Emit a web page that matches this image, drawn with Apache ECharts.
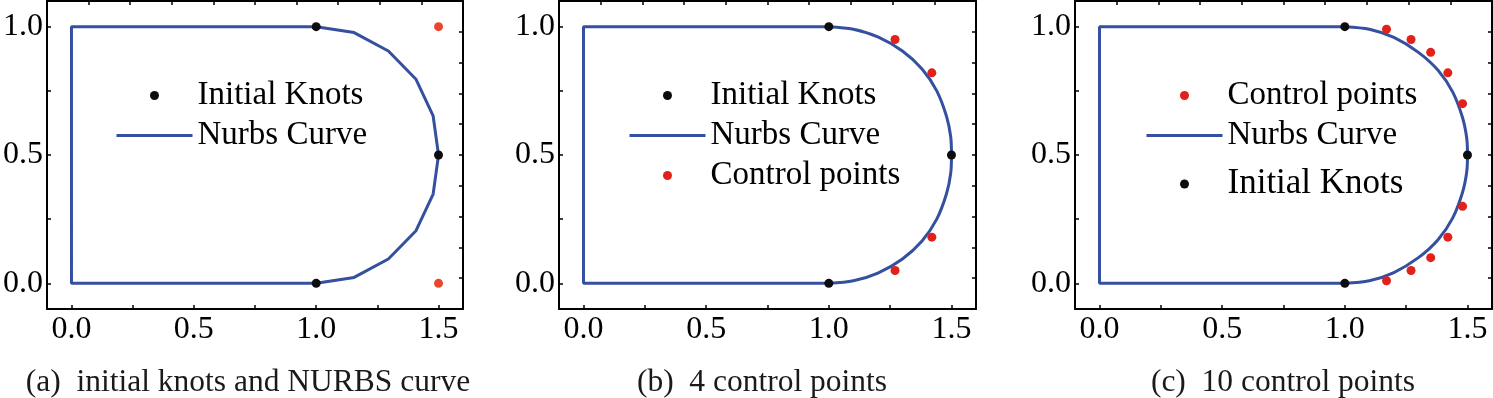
<!DOCTYPE html>
<html>
<head>
<meta charset="utf-8">
<script src="https://cdn.jsdelivr.net/npm/echarts@6/dist/echarts.min.js"></script>
<style>
  html, body { margin: 0; padding: 0; background: #fff; }
  #main { width: 1493px; height: 398px; }
</style>
</head>
<body>
<div id="main"></div>
<script>
// tick values
const xTickValues = [0, 0.25, 0.5, 0.75, 1, 1.25, 1.5]
const xLabelValues = [0, 0.5, 1, 1.5]
const yTickValues = [0, 0.25, 0.5, 0.75, 1]
const yLabelValues = [0, 0.5, 1]
const topTickValues = [0.07, 0.24, 0.41, 0.58, 0.75, 0.92, 1.09, 1.26, 1.43]
const rightTickValues = [0.02, 0.14, 0.26, 0.38, 0.5, 0.62, 0.74, 0.86, 0.98]

// straight part of the curve (same in all panels)
const straightPart = [[1, 0], [0, 0], [0, 1], [1, 1]]

// (a) initial knots and NURBS curve
const knotsA = [[1, 1], [1.5, 0.5], [1, 0]]
const controlA = [[1.5, 1], [1.5, 0]]
const curveA = [[1, 1], [1.155, 0.977], [1.295, 0.905], [1.408, 0.795], [1.478, 0.652], [1.5, 0.5],
    [1.478, 0.348], [1.408, 0.205], [1.295, 0.095], [1.155, 0.023], [1, 0]]

// (b) 4 control points
const knotsB = [[1, 1], [1.5, 0.5], [1, 0]]
const controlB = [[1.27, 0.95], [1.42, 0.82], [1.42, 0.18], [1.27, 0.05]]
const arcB = [[1, 1], [1.1, 0.99], [1.2, 0.96], [1.3, 0.905], [1.38, 0.835], [1.44, 0.75],
    [1.48, 0.65], [1.497, 0.57], [1.5, 0.5], [1.497, 0.43], [1.48, 0.35], [1.44, 0.25],
    [1.38, 0.165], [1.3, 0.095], [1.2, 0.04], [1.1, 0.01], [1, 0]]

// (c) 10 control points
const knotsC = [[1, 1], [1.5, 0.5], [1, 0]]
const controlC = [[1.17, 0.99], [1.27, 0.95], [1.35, 0.9], [1.42, 0.82], [1.48, 0.7],
    [1.48, 0.3], [1.42, 0.18], [1.35, 0.1], [1.27, 0.05], [1.17, 0.01]]
const arcC = [[1, 1], [1.1, 0.99], [1.2, 0.958], [1.3, 0.9], [1.38, 0.83], [1.44, 0.745],
    [1.48, 0.645], [1.497, 0.565], [1.5, 0.5], [1.497, 0.435], [1.48, 0.355], [1.44, 0.255],
    [1.38, 0.17], [1.3, 0.1], [1.2, 0.042], [1.1, 0.01], [1, 0]]

const captions = ['(a)\u2002initial knots and NURBS curve', '(b)\u20024 control points', '(c)\u200210 control points']

const FONT = 'Liberation Serif'
const BLUE = '#34509f'
const BLACK = '#0d0d0d'

const myChart = echarts.init(document.getElementById('main'))

// layout of the three panels
const curveItem = { name: 'Nurbs Curve', itemStyle: { opacity: 0 }, lineStyle: { width: 3, color: BLUE } }
const panels = [
    { left: 45, width: 418, legendLeft: 115, capX: 248,
      legend: ['Initial Knots', curveItem] },
    { left: 559, width: 417, legendLeft: 628, capX: 762,
      legend: ['Initial Knots', curveItem, 'Control points'] },
    { left: 1075, width: 417, legendLeft: 1145, capX: 1283,
      legend: ['Control points', curveItem, { name: 'Initial Knots', textStyle: { fontSize: 35, lineHeight: 50 } }] }
]

const grid = [], xAxis = [], yAxis = [], legend = [], graphic = []
const axisLine = { show: true, onZero: false, lineStyle: { color: '#000', width: 2 } }
const tickStyle = { color: '#000', width: 1.5 }
const fmt = v => v.toFixed(1)

panels.forEach((p, i) => {
    grid.push({ left: p.left, width: p.width, top: 1, bottom: 89 })
    // bottom
    xAxis.push({
        type: 'value', gridIndex: i, min: -0.1, max: 1.6, position: 'bottom',
        axisLine: axisLine, splitLine: { show: false },
        axisTick: { inside: true, length: 4, customValues: xTickValues, lineStyle: tickStyle },
        axisLabel: { customValues: xLabelValues, formatter: fmt, margin: 5,
            fontFamily: FONT, fontSize: 32, color: '#000' }
    })
    // top
    xAxis.push({
        type: 'value', gridIndex: i, min: -0.1, max: 1.6, position: 'top',
        axisLine: axisLine, splitLine: { show: false },
        axisTick: { inside: true, length: 4, customValues: topTickValues, lineStyle: tickStyle },
        axisLabel: { show: false }
    })
    // left
    yAxis.push({
        type: 'value', gridIndex: i, min: -0.1, max: 1.1, position: 'left',
        axisLine: axisLine, splitLine: { show: false },
        axisTick: { inside: true, length: 4, customValues: yTickValues, lineStyle: tickStyle },
        axisLabel: { customValues: yLabelValues, formatter: fmt, margin: 4,
            fontFamily: FONT, fontSize: 32, color: '#000' }
    })
    // right
    yAxis.push({
        type: 'value', gridIndex: i, min: -0.1, max: 1.1, position: 'right',
        axisLine: axisLine, splitLine: { show: false },
        axisTick: { inside: true, length: 4, customValues: rightTickValues, lineStyle: tickStyle },
        axisLabel: { show: false }
    })
    legend.push({
        orient: 'vertical', left: p.legendLeft, top: 79, selectedMode: false,
        itemWidth: 76, itemHeight: 9, itemGap: 7, padding: 0,
        textStyle: { fontFamily: FONT, fontSize: 33, lineHeight: 33, color: '#000' },
        data: p.legend
    })
    graphic.push({
        type: 'text', x: p.capX, y: 383,
        style: { text: captions[i], fontFamily: FONT, fontSize: 31.5, fill: '#1a1a1a',
            textAlign: 'center', textVerticalAlign: 'middle' }
    })
})

const lineSeries = (idx, data, smooth) => ({
    name: 'Nurbs Curve', type: 'line', xAxisIndex: idx * 2, yAxisIndex: idx * 2,
    data: data, symbol: 'none', smooth: smooth, z: 2,
    lineStyle: { color: BLUE, width: 3 }, itemStyle: { color: BLUE }
})
const dotSeries = (idx, name, data, color, size) => ({
    name: name, type: 'scatter', xAxisIndex: idx * 2, yAxisIndex: idx * 2,
    data: data, symbol: 'circle', symbolSize: size, z: 5,
    itemStyle: { color: color, opacity: 1 }
})

const series = [
    // panel b, c first so legend icons pick their colours
    dotSeries(1, 'Control points', controlB, '#e0221a', 9),
    dotSeries(2, 'Control points', controlC, '#e0221a', 9),
    dotSeries(0, 'Initial Knots', knotsA, BLACK, 9),
    dotSeries(1, 'Initial Knots', knotsB, BLACK, 9),
    dotSeries(2, 'Initial Knots', knotsC, BLACK, 9),
    dotSeries(0, 'Control points a', controlA, '#e8472b', 9),
    lineSeries(0, straightPart.concat(curveA.slice(1)), false),
    lineSeries(1, straightPart, false),
    lineSeries(1, arcB, 0.3),
    lineSeries(2, straightPart, false),
    lineSeries(2, arcC, 0.3)
]

myChart.setOption({
    animation: false,
    grid: grid,
    xAxis: xAxis,
    yAxis: yAxis,
    legend: legend,
    graphic: graphic,
    series: series
})
</script>
</body>
</html>
